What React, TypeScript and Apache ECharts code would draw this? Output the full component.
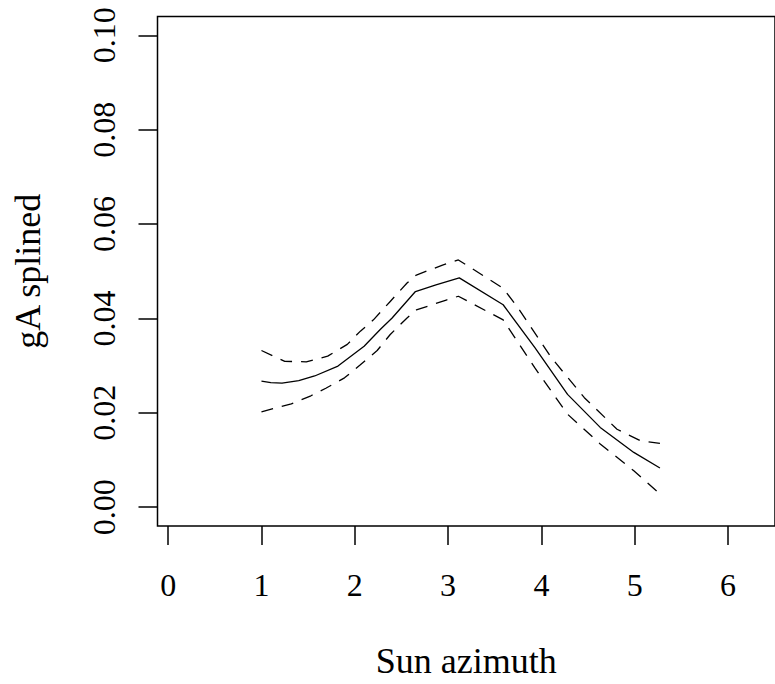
import React, { useEffect, useRef } from "react";
import * as echarts from "echarts";

const fitX = [1.0, 1.1, 1.22, 1.4, 1.57, 1.82, 2.1, 2.27, 2.4, 2.65, 2.87, 3.12, 3.59, 3.93, 4.28, 4.63, 4.99, 5.27];
const fitY = [0.0267, 0.0264, 0.0263, 0.0268, 0.0278, 0.0299, 0.0341, 0.0376, 0.0401, 0.0457, 0.0471, 0.0486, 0.0429, 0.0338, 0.0239, 0.0169, 0.0116, 0.0083];

const upperX = [1.0, 1.25, 1.48, 1.71, 1.92, 2.06, 2.2, 2.38, 2.56, 2.66, 2.94, 3.11, 3.59, 3.75, 4.11, 4.46, 4.81, 5.06, 5.27];
const upperY = [0.0332, 0.0309, 0.0308, 0.032, 0.0345, 0.0373, 0.0397, 0.0436, 0.0475, 0.0492, 0.0513, 0.0524, 0.0464, 0.0422, 0.0316, 0.0232, 0.0165, 0.0141, 0.0135];

const lowerX = [1.0, 1.32, 1.53, 1.69, 1.89, 2.06, 2.24, 2.38, 2.56, 2.66, 2.98, 3.11, 3.59, 3.93, 4.28, 4.63, 4.99, 5.27];
const lowerY = [0.0202, 0.0219, 0.0236, 0.0252, 0.0274, 0.0302, 0.0332, 0.0366, 0.0401, 0.0418, 0.0439, 0.0447, 0.0397, 0.0295, 0.0197, 0.0134, 0.0077, 0.0028];

const xTicks = [0, 1, 2, 3, 4, 5, 6];
const yTicks = [0, 0.02, 0.04, 0.06, 0.08, 0.1];

const zip = (xs: number[], ys: number[]) => xs.map((x, i) => [x, ys[i]]);

export default function App() {
  const ref = useRef<HTMLDivElement>(null);
  useEffect(() => {
    if (!ref.current) return;
    const chart = echarts.init(ref.current, null, { renderer: "svg" });
    const font = "'Liberation Serif', serif";
    chart.setOption({
      animation: false,
      backgroundColor: "#ffffff",
      grid: {
        left: 157.5,
        top: 16.5,
        right: -8.5,
        bottom: 155,
        show: true,
        borderColor: "#000",
        borderWidth: 1.5,
        containLabel: false,
      },
      xAxis: {
        type: "value",
        min: -0.114,
        max: 6.503,
        name: "Sun azimuth",
        nameLocation: "middle",
        nameGap: 117,
        nameTextStyle: { fontFamily: font, fontSize: 36, color: "#000" },
        axisLine: { show: false, onZero: false },
        axisTick: {
          show: true,
          length: 19,
          inside: false,
          customValues: xTicks,
          lineStyle: { color: "#000", width: 1.5 },
        },
        axisLabel: {
          show: true,
          customValues: xTicks,
          margin: 43,
          fontFamily: font,
          fontSize: 32,
          color: "#000",
        },
        splitLine: { show: false },
      },
      yAxis: {
        type: "value",
        min: -0.004,
        max: 0.104,
        name: "gA splined",
        nameLocation: "middle",
        nameGap: 112,
        nameTextStyle: { fontFamily: font, fontSize: 36, color: "#000" },
        axisLine: { show: false, onZero: false },
        axisTick: {
          show: true,
          length: 19,
          inside: false,
          customValues: yTicks,
          lineStyle: { color: "#000", width: 1.5 },
        },
        axisLabel: {
          show: true,
          customValues: yTicks,
          rotate: 90,
          margin: 38,
          fontFamily: font,
          fontSize: 32,
          color: "#000",
          formatter: (v: number) => v.toFixed(2),
        },
        splitLine: { show: false },
      },
      series: [
        {
          type: "line",
          data: zip(fitX, fitY),
          showSymbol: false,
          lineStyle: { color: "#000", width: 1.3, type: "solid" },
        },
        {
          type: "line",
          data: zip(upperX, upperY),
          showSymbol: false,
          lineStyle: { color: "#000", width: 1.3, type: [12, 9] },
        },
        {
          type: "line",
          data: zip(lowerX, lowerY),
          showSymbol: false,
          lineStyle: { color: "#000", width: 1.3, type: [12, 9] },
        },
      ],
    });
    return () => chart.dispose();
  }, []);
  return (
    <div
      ref={ref}
      style={{ position: "absolute", left: 0, top: 0, width: 775, height: 684 }}
    />
  );
}
